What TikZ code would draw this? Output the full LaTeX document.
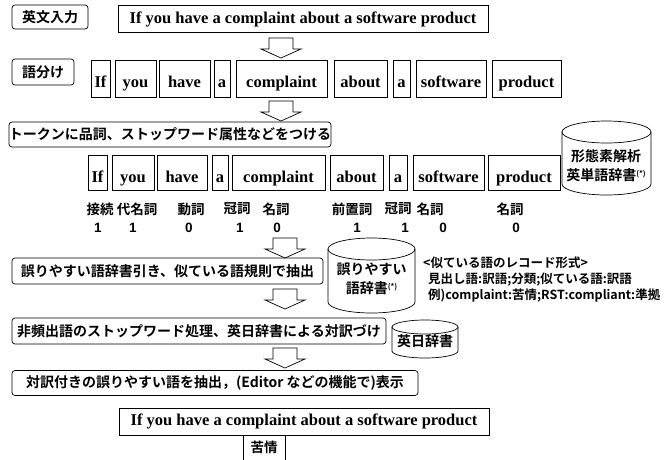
\documentclass[tikz,border=0pt]{standalone}
\usepackage{fontspec}
\setmainfont{Liberation Serif}
\newfontfamily\jp{Noto Sans CJK JP Bold}
\newfontfamily\numf{Liberation Sans}
\newcommand\hollowarrow[2]{%
  \draw[line width=0.7pt] (#1-12,#2) -- (#1+12,#2) -- (#1+12,#2+11) -- (#1+20,#2+11)
    -- (#1,#2+20) -- (#1-20,#2+11) -- (#1-12,#2+11) -- cycle;}
\newcommand\drum[5]{% x1 y1 x2 y2 ry
  \draw[line width=0.7pt] ({(#1+#3)/2},#2+#5) ellipse [x radius={(#3-#1)/2*1pt}, y radius=#5pt];
  \draw[line width=0.7pt] (#1,#2+#5) -- (#1,#4-#5)
    arc [start angle=180, end angle=360, x radius={(#3-#1)/2*1pt}, y radius=#5pt] -- (#3,#2+#5);}
\tikzset{
  lbl/.style={draw, rounded corners=3pt, line width=0.7pt, inner sep=0pt,
    font=\jp\fontsize{14}{15}\selectfont},
  sent/.style={draw, line width=0.6pt, inner sep=0pt,
    font=\bfseries\fontsize{16.5}{18}\selectfont},
  wbox/.style={draw, line width=0.6pt, inner sep=0pt,
    font=\bfseries\fontsize{16.5}{18}\selectfont},
  poslbl/.style={inner sep=0pt, font=\jp\fontsize{13.5}{14}\selectfont},
  numlbl/.style={inner sep=0pt, font=\numf\bfseries\fontsize{13.5}{14}\selectfont},
  smalltxt/.style={inner sep=0pt, anchor=west, font=\jp\fontsize{12.5}{13}\selectfont},
  dbtext/.style={inner sep=0pt, align=center, font=\jp\fontsize{14}{19}\selectfont},
}
\newcommand\wlow[2]{\smash{\raisebox{-#1pt}{#2}}}
\newcommand\astr{\raisebox{4pt}{\fontsize{7.5}{8}\selectfont(*)}}
\begin{document}
\begin{tikzpicture}[x=1pt,y=-1pt]
\useasboundingbox[fill=white] (0,0) rectangle (666,459);

% top
\node[lbl, minimum width=76, minimum height=24] (in) at (50,17) {英文入力};
\node[sent, minimum width=370, minimum height=27] (s1) at (303,19) {If you have a complaint about a software product};
\hollowarrow{281}{38}

% word split
\node[lbl, minimum width=62, minimum height=26] (split) at (43,72) {語分け};
\foreach \nm/\a/\b/\w in {w1/91/110/If, w2/115/156/you, w3/159/210/have, w4/214/230/a,
  w5/236/327/complaint, w6/334/387/about, w7/393/410/a, w8/416/486/software, w9/492/561/product}{
  \node[wbox, minimum width={\b-\a}, minimum height=37] (\nm) at ({(\a+\b)/2},78.5) {\wlow{9}{\w}};
}
\hollowarrow{281}{101}

% tokens
\node[lbl, minimum width=316, minimum height=25] (tok) at (170,134.5) {トークンに品詞、ストップワード属性などをつける};
\foreach \nm/\a/\b/\w in {t1/88/107/If, t2/112/154/you, t3/157/207/have, t4/212/228/a,
  t5/232/325/complaint, t6/330/383/about, t7/389/407/a, t8/413/484/software, t9/488/560/product}{
  \node[wbox, minimum width={\b-\a}, minimum height=35] (\nm) at ({(\a+\b)/2},172.5) {\wlow{10}{\w}};
}
\drum{562}{121}{651}{195}{11}
\node[dbtext] (morph) at (606,166) {形態素解析\\英単語辞書\astr};

\foreach \x/\t [count=\i] in {100/接続, 137/代名詞, 191/動詞, 237/冠詞, 276/名詞, 352/前置詞, 398/冠詞, 430/名詞, 510/名詞}{
  \node[poslbl] (p\i) at (\x,209) {\t};
}
\foreach \x/\t [count=\i] in {98/1, 133/1, 189/0, 240/1, 277/0, 357/1, 405/1, 443/0, 516/0}{
  \node[numlbl] (n\i) at (\x,228) {\t};
}
\hollowarrow{285}{238}

% extraction
\node[lbl, minimum width=311, minimum height=26] (ext) at (167.5,271) {誤りやすい語辞書引き、似ている語規則で抽出};
\drum{328}{238}{415}{313}{11}
\node[dbtext] (err) at (371.5,279) {誤りやすい\\語辞書\astr};
\node[smalltxt] (r1) at (423,263) {<似ている語のレコード形式>};
\node[smalltxt] (r2) at (428,279.5) {見出し語:訳語;分類;似ている語:訳語};
\node[smalltxt] (r3) at (428,295.5) {例)complaint:苦情;RST:compliant:準拠};
\hollowarrow{285}{289}

% stopwords
\node[lbl, minimum width=374, minimum height=26] (stop) at (199,331) {非頻出語のストップワード処理、英日辞書による対訳づけ};
\drum{392}{320}{458}{358}{7}
\node[dbtext] (ej) at (425,341) {英日辞書};
\hollowarrow{285}{348}

% display
\node[lbl, minimum width=406, minimum height=25] (disp) at (215,383) {対訳付きの誤りやすい語を抽出，(Editor などの機能で)表示};
\node[sent, minimum width=370, minimum height=27] (s2) at (304,421.5) {If you have a complaint about a software product};
\draw[line width=0.7pt] (243,462) -- (243,435) -- (285,435) -- (285,462);
\node[poslbl, font=\jp\fontsize{13.5}{14}\selectfont] (kj) at (264,447) {苦情};
\end{tikzpicture}
\end{document}
